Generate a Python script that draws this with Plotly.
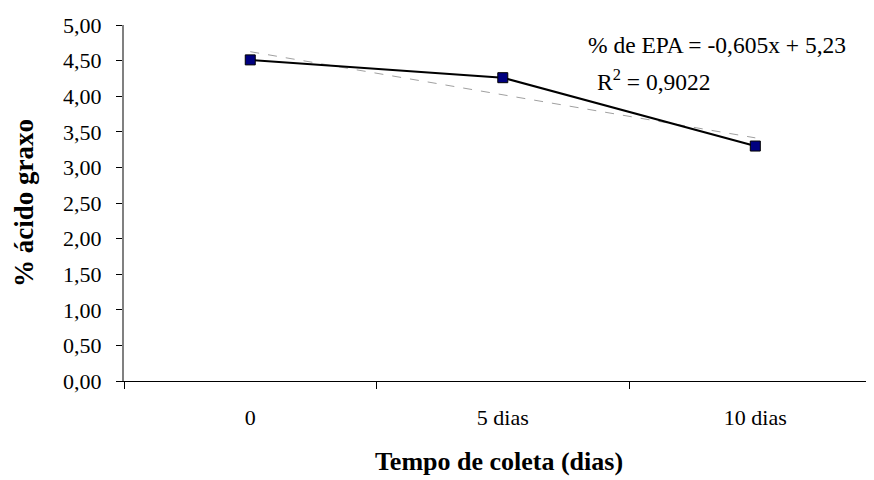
import plotly.graph_objects as go

categories = ["0", "5 dias", "10 dias"]
epa_values = [4.51, 4.26, 3.30]
trend_values = [4.625, 4.02, 3.415]  # -0.605x + 5.23 at x = 1, 2, 3
y_tick_values = [0, 0.5, 1, 1.5, 2, 2.5, 3, 3.5, 4, 4.5, 5]
y_tick_labels = ["0,00", "0,50", "1,00", "1,50", "2,00", "2,50", "3,00", "3,50", "4,00", "4,50", "5,00"]
boundary_ticks = [-0.5, 0.5, 1.5]
equation_text = "% de EPA = -0,605x + 5,23"
r2_text = "R<sup>2</sup> = 0,9022"

FONT = "Liberation Serif"
xpos = list(range(len(categories)))

# page body has an 8px margin: figure is drawn at (8, 8)
W, H = 866, 472
L, T, B = 116, 17, 99
PW, PH = W - L, H - T - B

def px_x(x):
    return (x - 8 - L) / PW

def px_y(y):
    return 1 - (y - 8 - T) / PH

fig = go.Figure()
fig.add_trace(go.Scatter(
    x=xpos, y=trend_values, mode="lines",
    line=dict(color="#a0a0a0", width=1, dash="dash"),
    hoverinfo="skip", showlegend=False,
))
fig.add_trace(go.Scatter(
    x=xpos, y=epa_values, mode="lines+markers",
    line=dict(color="black", width=2),
    marker=dict(symbol="square", size=10, color="#000080",
                line=dict(color="black", width=1)),
    showlegend=False,
))
fig.add_trace(go.Scatter(x=xpos, y=epa_values, xaxis="x2", mode="markers",
                         marker=dict(opacity=0), hoverinfo="skip", showlegend=False))
fig.update_layout(
    width=W, height=H,
    margin=dict(l=L, r=0, t=T, b=B),
    paper_bgcolor="white", plot_bgcolor="white",
    font=dict(family=FONT, size=22, color="black"),
    xaxis=dict(
        range=[-0.5, 2.47],
        tickmode="array", tickvals=boundary_ticks, showticklabels=False,
        ticks="outside", ticklen=7, tickcolor="black", tickwidth=1,
        showline=True, linecolor="black", linewidth=1,
        showgrid=False, zeroline=False,
        title=dict(text="<b>Tempo de coleta (dias)</b>", font=dict(size=26), standoff=63),
    ),
    xaxis2=dict(
        overlaying="x", matches="x", side="bottom", anchor="y",
        tickmode="array", tickvals=xpos, ticktext=categories,
        ticks="", showline=False, showgrid=False, zeroline=False,
        ticklabelstandoff=21,
        tickfont=dict(size=22),
    ),
    yaxis=dict(
        range=[0, 5],
        tickmode="array", tickvals=y_tick_values, ticktext=y_tick_labels,
        ticks="outside", ticklen=6, tickcolor="black", tickwidth=1,
        showline=True, linecolor="#808080", linewidth=2,
        showgrid=False, zeroline=False,
        ticklabelstandoff=10,
        title=dict(text="<b>% ácido graxo</b>", font=dict(size=27), standoff=22),
    ),
    annotations=[
        dict(text=equation_text, xref="paper", yref="paper", x=px_x(586), y=px_y(45),
             xanchor="left", yanchor="middle", showarrow=False, font=dict(size=23.5)),
        dict(text=r2_text, xref="paper", yref="paper", x=px_x(595), y=px_y(80),
             xanchor="left", yanchor="middle", showarrow=False, font=dict(size=23.5)),
    ],
)
fig.write_html("out.html")
